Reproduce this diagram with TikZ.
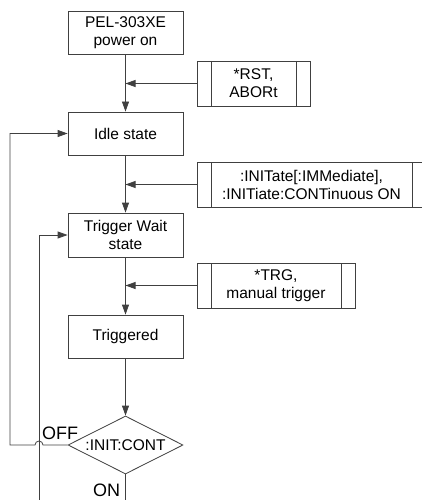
\documentclass[tikz,border=0pt]{standalone}
\usepackage{fontspec}
\setmainfont{Liberation Sans}
\usetikzlibrary{shapes.geometric,arrows.meta}
\begin{document}
\begin{tikzpicture}[x=1pt,y=-1pt,
  line width=0.8pt, draw=black!75,
  every node/.style={font=\fontsize{15.5}{18}\selectfont, align=center},
  statebox/.style={draw=black!75, rectangle, minimum width=115pt, minimum height=43pt, inner sep=0pt},
  procbox/.style={draw=black!75, rectangle, minimum height=45pt, inner sep=0pt,
    path picture={\draw[black!75,line width=0.8pt]
      ([xshift=14pt]path picture bounding box.north west) -- ([xshift=14pt]path picture bounding box.south west)
      ([xshift=-14pt]path picture bounding box.north east) -- ([xshift=-14pt]path picture bounding box.south east);}},
  decision/.style={draw=black!75, diamond, aspect=2, minimum width=115pt, minimum height=58pt, inner sep=0pt},
  lbl/.style={font=\fontsize{18}{20}\selectfont, inner sep=0pt},
  arr/.style={-{Triangle[length=10pt,width=7pt]}, black!75}
]
\useasboundingbox (0,0) rectangle (422,500);
\node[statebox] (pon) at (125.5,32.5) {PEL-303XE\\power on};
\node[procbox, minimum width=113pt] (rst) at (253.5,83.5) {*RST,\\ABORt};
\node[statebox] (idle) at (125.5,133.5) {Idle state};
\node[procbox, minimum width=229pt] (init) at (311.5,184.5) {:INITate[:IMMediate],\\:INITiate:CONTinuous ON};
\node[statebox, minimum height=44pt] (tw) at (125.5,235) {Trigger Wait\\state};
\node[procbox, minimum width=158pt] (trg) at (276,285.5) {*TRG,\\manual trigger};
\node[statebox] (trd) at (125.5,336.5) {Triggered};
\node[decision] (dec) at (125.5,445) {:INIT:CONT};
\node[lbl] (off) at (60,433) {OFF};
\node[lbl] (on) at (106.5,490) {ON};
\coordinate (hopc) at (39,445);
\coordinate (loopx) at (10,445);
\coordinate (onend) at (125.5,502);
\coordinate (twend) at (39,502);

\draw[arr] (pon.south) -- (idle.north);
\draw[arr] (rst.west) -- (rst.west -| pon.south);
\draw[arr] (idle.south) -- (tw.north);
\draw[arr] (init.west) -- (init.west -| idle.south);
\draw[arr] (tw.south) -- (trd.north);
\draw[arr] (trg.west) -- (trg.west -| tw.south);
\draw[arr] (trd.south) -- (dec.north);
\draw[arr] (dec.west) -- ([xshift=4pt]hopc) arc (0:-180:4) -- (loopx) |- (idle.west);
\draw[arr] (twend) |- (tw.west);
\draw (dec.south) -- (onend);
\end{tikzpicture}
\end{document}
